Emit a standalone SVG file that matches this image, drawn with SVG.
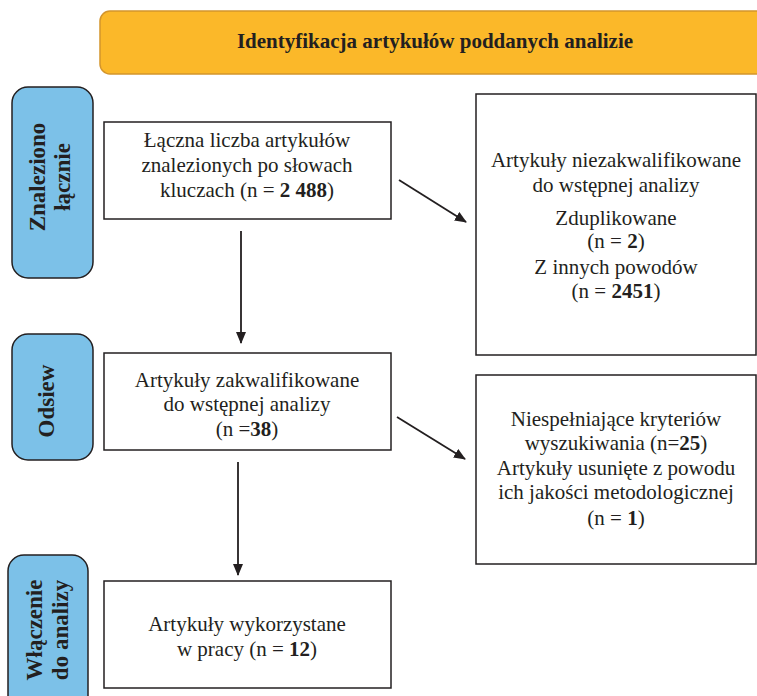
<svg xmlns="http://www.w3.org/2000/svg" width="757" height="696" viewBox="0 0 757 696">
<defs>
<style>
.box{fill:#ffffff;stroke:#231f20;stroke-width:1.5}
.side{fill:#7cc1e8;stroke:#231f20;stroke-width:1.5}
.t{font-family:'Liberation Serif','Times New Roman',Times,'DejaVu Serif',serif;font-size:21px;fill:#231f20;text-anchor:middle}
.s{font-family:'Liberation Serif','Times New Roman',Times,'DejaVu Serif',serif;font-size:23px;font-weight:bold;fill:#231f20;text-anchor:middle}
.b{font-weight:bold}
.c{stroke:#231f20;stroke-width:1.8;fill:none;marker-end:url(#ah)}
</style>
<marker id="ah" viewBox="0 0 12 10" refX="11" refY="5" markerWidth="12" markerHeight="10" markerUnits="userSpaceOnUse" orient="auto">
<path d="M0,0 L12,5 L0,10 Z" fill="#231f20"/>
</marker>
</defs>
<rect width="757" height="696" fill="#ffffff"/>

<g id="banner">
<rect x="100" y="11" width="680" height="63" rx="10" fill="#fbb829" stroke="#d4952b" stroke-width="1.5"/>
<text x="435" y="48" class="s" style="font-size:21px">Identyfikacja artykułów poddanych analizie</text>
</g>

<g id="side-znaleziono">
<rect x="12" y="87" width="81" height="191" rx="16" class="side"/>
<text class="s" transform="translate(45,177) rotate(-90)">Znaleziono</text>
<text class="s" transform="translate(70,177) rotate(-90)">łącznie</text>
</g>

<g id="side-odsiew">
<rect x="12" y="334" width="81" height="126" rx="16" class="side"/>
<text class="s" transform="translate(54,401) rotate(-90)">Odsiew</text>
</g>

<g id="side-wlaczenie">
<rect x="8" y="555" width="80" height="160" rx="16" class="side"/>
<text class="s" transform="translate(42,630) rotate(-90)">Włączenie</text>
<text class="s" transform="translate(68,630) rotate(-90)">do analizy</text>
</g>

<g id="node-laczna">
<rect x="104" y="122" width="287" height="97" class="box"/>
<text class="t" x="247" y="147">Łączna liczba artykułów</text>
<text class="t" x="247" y="172">znalezionych po słowach</text>
<text class="t" x="247" y="197">kluczach (n = <tspan class="b">2 488</tspan>)</text>
</g>

<g id="node-niezakwalifikowane">
<rect x="476" y="94" width="280" height="261" class="box"/>
<text class="t" x="616" y="167">Artykuły niezakwalifikowane</text>
<text class="t" x="616" y="192">do wstępnej analizy</text>
<text class="t" x="616" y="225">Zduplikowane</text>
<text class="t" x="616" y="248">(n = <tspan class="b">2</tspan>)</text>
<text class="t" x="616" y="274">Z innych powodów</text>
<text class="t" x="616" y="298">(n = <tspan class="b">2451</tspan>)</text>
</g>

<g id="node-zakwalifikowane">
<rect x="104" y="353" width="287" height="97" class="box"/>
<text class="t" x="247" y="387">Artykuły zakwalifikowane</text>
<text class="t" x="247" y="411">do wstępnej analizy</text>
<text class="t" x="247" y="436">(n =<tspan class="b">38</tspan>)</text>
</g>

<g id="node-niespelniajace">
<rect x="476" y="375" width="280" height="189" class="box"/>
<text class="t" x="616" y="426">Niespełniające kryteriów</text>
<text class="t" x="616" y="450">wyszukiwania (n=<tspan class="b">25</tspan>)</text>
<text class="t" x="616" y="475">Artykuły usunięte z powodu</text>
<text class="t" x="616" y="499">ich jakości metodologicznej</text>
<text class="t" x="616" y="525">(n = <tspan class="b">1</tspan>)</text>
</g>

<g id="node-wykorzystane">
<rect x="104" y="581" width="287" height="107" class="box"/>
<text class="t" x="247" y="631">Artykuły wykorzystane</text>
<text class="t" x="247" y="656">w pracy (n = <tspan class="b">12</tspan>)</text>
</g>

<g id="connectors">
<line x1="241" y1="231" x2="241" y2="343" class="c"/>
<line x1="238" y1="462" x2="238" y2="575" class="c"/>
<line x1="399" y1="180" x2="466" y2="222" class="c"/>
<line x1="397" y1="417" x2="465" y2="459" class="c"/>
</g>
</svg>
